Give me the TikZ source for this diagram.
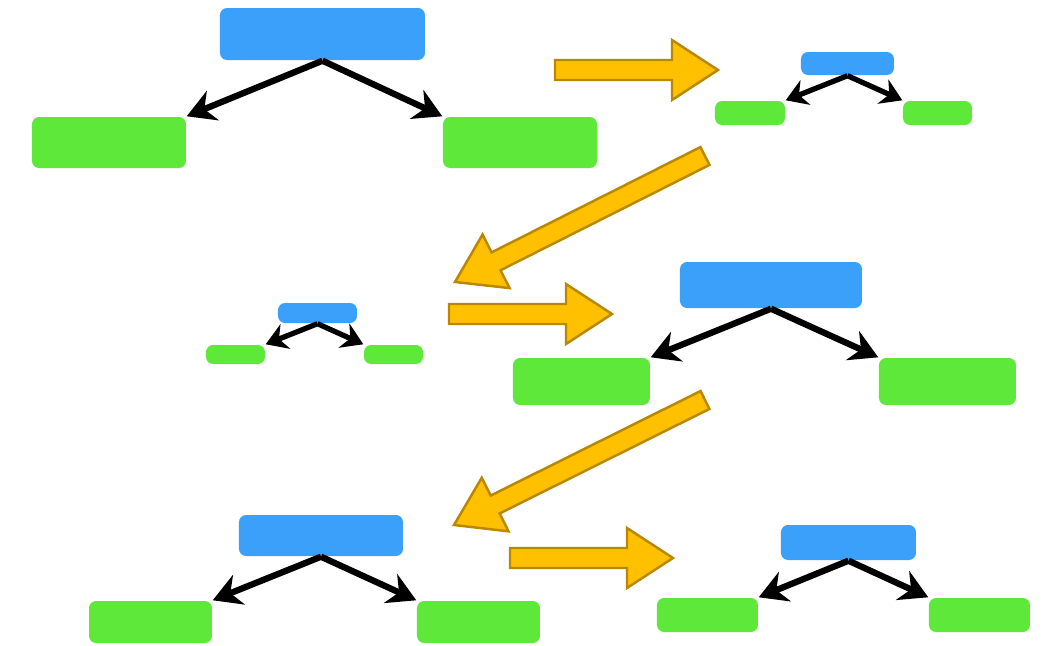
\documentclass[tikz,border=0pt]{standalone}
\usetikzlibrary{arrows.meta,calc}
\definecolor{boxblue}{RGB}{58,160,250}
\definecolor{boxgreen}{RGB}{94,232,58}
\definecolor{arrfill}{RGB}{255,192,0}
\definecolor{arrline}{RGB}{185,135,0}
\tikzset{
  bluebox/.style={fill=boxblue,rounded corners=2pt,inner sep=0pt},
  greenbox/.style={fill=boxgreen,rounded corners=2pt,inner sep=0pt},
  treearrow/.style={line width=1.8pt,-{Stealth[length=8pt,width=9pt]}},
  smallarrow/.style={line width=1.5pt,-{Stealth[length=6pt,width=7.5pt]}},
  bigarrow/.style={fill=arrfill,draw=arrline,line width=.7pt,line join=miter}
}
\newcommand{\fatarrow}[2]{%
\coordinate (hb) at ($(#2)!0.46cm!(#1)$);
\draw[bigarrow] ($(#1)!0.1cm!90:(#2)$) -- ($(hb)!0.1cm!90:(#2)$) -- ($(hb)!0.3cm!90:(#2)$) -- (#2)
  -- ($(hb)!0.3cm!-90:(#2)$) -- ($(hb)!0.1cm!-90:(#2)$) -- ($(#1)!0.1cm!-90:(#2)$) -- cycle;}

\begin{document}
\begin{tikzpicture}
\useasboundingbox (0,0) rectangle (10.55,-6.46);
\node[bluebox,minimum width=2.05cm,minimum height=0.52cm] (b1) at (3.225,-0.34) {};
\node[greenbox,minimum width=1.54cm,minimum height=0.51cm] (l1) at (1.09,-1.425) {};
\node[greenbox,minimum width=1.54cm,minimum height=0.51cm] (r1) at (5.20,-1.425) {};
\draw[treearrow] (b1.south) -- (l1.north east);
\draw[treearrow] (b1.south) -- (r1.north west);

\node[bluebox,minimum width=0.93cm,minimum height=0.23cm] (b2) at (8.475,-0.635) {};
\node[greenbox,minimum width=0.70cm,minimum height=0.24cm] (l2) at (7.50,-1.13) {};
\node[greenbox,minimum width=0.69cm,minimum height=0.24cm] (r2) at (9.375,-1.13) {};
\draw[smallarrow] (b2.south) -- (l2.north east);
\draw[smallarrow] (b2.south) -- (r2.north west);

\node[bluebox,minimum width=0.79cm,minimum height=0.20cm] (b3) at (3.175,-3.13) {};
\node[greenbox,minimum width=0.59cm,minimum height=0.19cm] (l3) at (2.355,-3.545) {};
\node[greenbox,minimum width=0.59cm,minimum height=0.19cm] (r3) at (3.935,-3.545) {};
\draw[smallarrow] (b3.south) -- (l3.north east);
\draw[smallarrow] (b3.south) -- (r3.north west);

\node[bluebox,minimum width=1.82cm,minimum height=0.46cm] (b4) at (7.71,-2.85) {};
\node[greenbox,minimum width=1.37cm,minimum height=0.47cm] (l4) at (5.815,-3.815) {};
\node[greenbox,minimum width=1.37cm,minimum height=0.47cm] (r4) at (9.475,-3.815) {};
\draw[treearrow] (b4.south) -- (l4.north east);
\draw[treearrow] (b4.south) -- (r4.north west);

\node[bluebox,minimum width=1.64cm,minimum height=0.41cm] (b5) at (3.21,-5.355) {};
\node[greenbox,minimum width=1.23cm,minimum height=0.42cm] (l5) at (1.505,-6.22) {};
\node[greenbox,minimum width=1.23cm,minimum height=0.42cm] (r5) at (4.785,-6.22) {};
\draw[treearrow] (b5.south) -- (l5.north east);
\draw[treearrow] (b5.south) -- (r5.north west);

\node[bluebox,minimum width=1.35cm,minimum height=0.35cm] (b6) at (8.485,-5.425) {};
\node[greenbox,minimum width=1.01cm,minimum height=0.34cm] (l6) at (7.075,-6.15) {};
\node[greenbox,minimum width=1.01cm,minimum height=0.34cm] (r6) at (9.795,-6.15) {};
\draw[treearrow] (b6.south) -- (l6.north east);
\draw[treearrow] (b6.south) -- (r6.north west);

\coordinate (s1) at (5.55,-0.70);  \coordinate (e1) at (7.18,-0.70);
\coordinate (s2) at (7.05,-1.56);  \coordinate (e2) at (4.55,-2.82);
\coordinate (s3) at (4.49,-3.14);  \coordinate (e3) at (6.12,-3.14);
\coordinate (s4) at (7.05,-4.00);  \coordinate (e4) at (4.54,-5.25);
\coordinate (s5) at (5.10,-5.58);  \coordinate (e5) at (6.73,-5.58);
\fatarrow{s1}{e1}
\fatarrow{s2}{e2}
\fatarrow{s3}{e3}
\fatarrow{s4}{e4}
\fatarrow{s5}{e5}
\end{tikzpicture}
\end{document}
